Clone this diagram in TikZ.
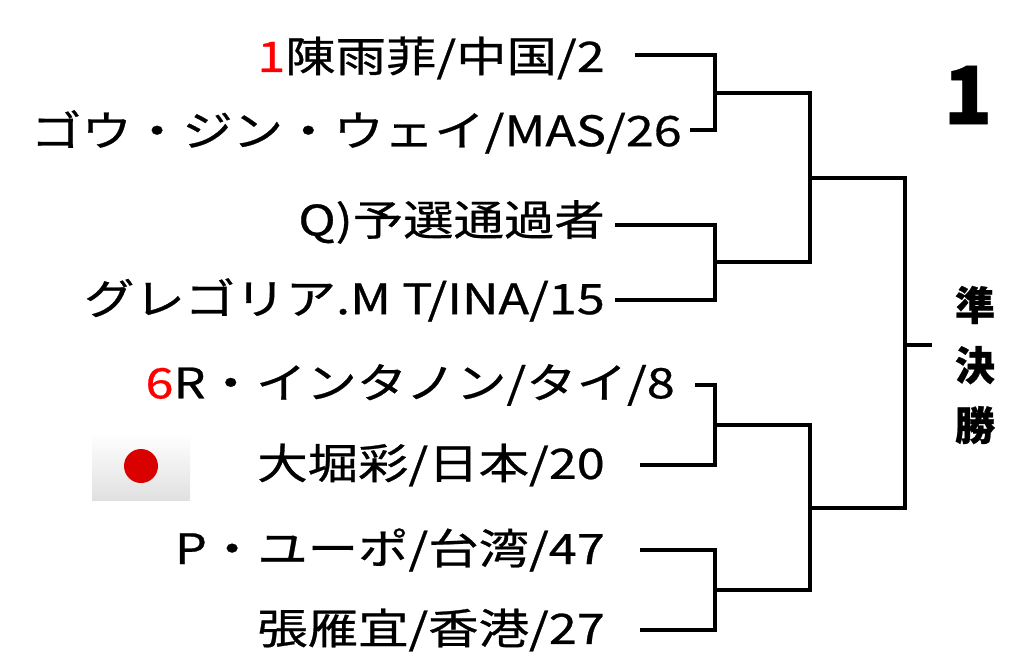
\documentclass[tikz,border=0pt]{standalone}
\usepackage{fontspec}
\setmainfont{Noto Sans CJK JP}[FakeBold=0.6]
\begin{document}
\begin{tikzpicture}[x=1pt,y=-1pt,
  player/.style={anchor=east,inner sep=0pt,xscale=1.2,font=\fontsize{42}{42}\selectfont},
  line/.style={line width=3.5pt}]
\useasboundingbox[fill=white] (0,0) rectangle (1024,664);
%players
\node[player] (p1) at (605,58) {\textcolor{red}{1}陳雨菲/中国/2};
\node[player] (p2) at (682,132) {ゴウ・ジン・ウェイ/MAS/26};
\node[player] (p3) at (605,222) {Q)予選通過者};
\node[player] (p4) at (605,300) {グレゴリア.M T/INA/15};
\node[player] (p5) at (675,385) {\textcolor{red}{6}R・インタノン/タイ/8};
\node[player] (p6) at (605,465) {大堀彩/日本/20};
\node[player] (p7) at (605,550) {P・ユーポ/台湾/47};
\node[player] (p8) at (605,630) {張雁宜/香港/27};
%flag
\shade[top color=white,bottom color=black!12] (92,433) rectangle (190,500);
\fill[red!85!black] (141,466) circle (17);
%bracket
\coordinate (a1) at (635,55);  \coordinate (a2) at (690,130);
\coordinate (a3) at (615,225); \coordinate (a4) at (615,300);
\coordinate (a5) at (695,385); \coordinate (a6) at (640,465);
\coordinate (a7) at (640,550); \coordinate (a8) at (640,630);
\draw[line] (a1) -- (715,55) -- (715,130) -- (a2);
\draw[line] (a3) -- (715,225) -- (715,300) -- (a4);
\draw[line] (a5) -- (715,385) -- (715,465) -- (a6);
\draw[line] (a7) -- (715,550) -- (715,630) -- (a8);
\draw[line] (715,93) -- (810,93) -- (810,262) -- (715,262);
\draw[line] (715,425) -- (810,425) -- (810,590) -- (715,590);
\draw[line] (810,178) -- (905,178) -- (905,508) -- (810,508);
\draw[line] (905,345) -- (932,345);
%labels
\node[font=\fontsize{40}{60}\selectfont\bfseries,align=center,inner sep=0pt] (sf) at (975,365) {準\\決\\勝};
\node[font=\fontsize{80}{80}\selectfont\bfseries,inner sep=0pt] (no) at (968,95) {1};
\end{tikzpicture}
\end{document}
